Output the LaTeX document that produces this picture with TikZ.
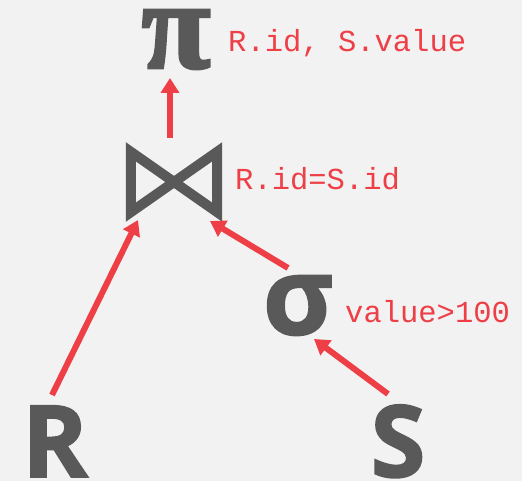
\documentclass[tikz,border=0pt]{standalone}
\usepackage{fontspec}
\setmainfont{DejaVu Sans}
\newfontfamily\labfont{Liberation Mono}
\newfontfamily\bigfont[BoldFeatures={FakeBold=1.5}]{Open Sans}
\newfontfamily\pifont[BoldFeatures={FakeBold=2.5}]{Liberation Serif}
\usetikzlibrary{arrows.meta,calc}
\definecolor{bg}{HTML}{F2F2F2}
\definecolor{ink}{HTML}{595959}
\definecolor{redc}{HTML}{EE3F47}
\tikzset{
  lab/.style={text=redc, font=\labfont\fontsize{30.5}{30}\selectfont, inner sep=0pt, anchor=base west},
  glyph/.style={text=ink, inner sep=0pt, text depth=0pt},
  arr/.style={draw=redc, line width=6pt, -{Triangle[length=15pt,width=18pt]}},
}
\begin{document}
\begin{tikzpicture}[x=1pt,y=-1pt]
\fill[bg] (0,0) rectangle (522,481);
\useasboundingbox (0,0) rectangle (522,481);
% operators
\node[glyph, font=\pifont\bfseries\fontsize{125}{125}\selectfont] (pi) at (176,39) {π};
\node[lab] (pilab) at (228,52) {R.id, S.value};
\node[glyph, minimum width=96pt, minimum height=70pt] (join) at (174,182) {};
\draw[ink, line width=10pt, line join=miter] ($(join.north west)+(5,5)$) coordinate (jnw)
  -- ($(join.south east)+(-5,-5)$) coordinate (jse)
  -- ($(join.north east)+(-5,5)$) coordinate (jne)
  -- ($(join.south west)+(5,-5)$) coordinate (jsw) -- cycle;
\node[lab] (joinlab) at (235,190) {R.id=S.id};
\node[glyph, font=\bigfont\bfseries\fontsize{108}{108}\selectfont] (sigma) at (298,305) {σ};
\node[lab] (siglab) at (345,322) {value>100};
\node[glyph, font=\bigfont\bfseries\fontsize{100}{100}\selectfont, anchor=base] (R) at (55,477) {R};
\node[glyph, font=\bigfont\bfseries\fontsize{100}{100}\selectfont, anchor=base] (S) at (398,477) {S};
% arrow ends
\coordinate (a1) at (170,138); \coordinate (b1) at (170,78);
\coordinate (a2) at (52,395); \coordinate (b2) at (138,220);
\coordinate (a3) at (288,268); \coordinate (b3) at (210,221);
\coordinate (a4) at (388,394); \coordinate (b4) at (314,339);
\draw[arr] (a1) -- (b1);
\draw[arr] (a2) -- (b2);
\draw[arr] (a3) -- (b3);
\draw[arr] (a4) -- (b4);
\end{tikzpicture}
\end{document}
